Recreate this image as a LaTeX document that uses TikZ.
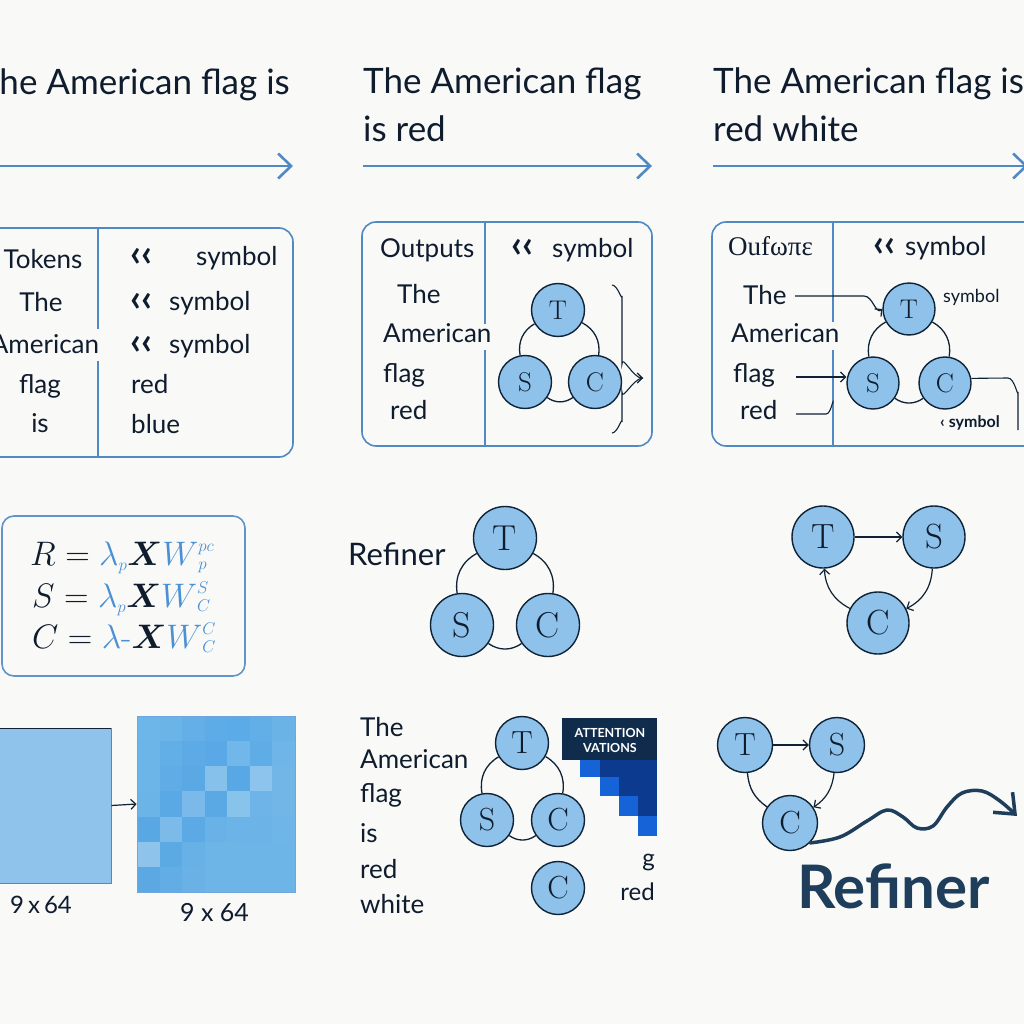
\RequirePackage{fix-cm}
\documentclass[tikz,border=0pt]{standalone}
\usepackage{bm}
\usepackage{fontspec}
\newfontfamily\lato{Lato}
\newfontfamily\libserif{Liberation Serif}
\usetikzlibrary{arrows.meta}
\definecolor{bg}{HTML}{F9F9F7}
\definecolor{ink}{HTML}{0E1C2E}
\definecolor{steel}{HTML}{5089C3}
\definecolor{cfill}{HTML}{8EC2EA}
\definecolor{cline}{HTML}{0F2236}
\definecolor{fblue}{HTML}{4A90D4}
\definecolor{navy}{HTML}{1E3E5C}
\definecolor{hdr}{HTML}{0F2C4C}
\definecolor{bright}{HTML}{1563D6}
\definecolor{deep}{HTML}{0B3A8E}
\definecolor{lblue}{HTML}{90C3EB}
\tikzset{
 head/.style={font=\lato\fontsize{35}{40}\selectfont, text=ink, inner sep=0pt, anchor=base west},
 btxt/.style={font=\lato\fontsize{26}{30}\selectfont, text=ink, inner sep=0pt, anchor=base west},
 chev/.style={font=\lato\bfseries\fontsize{38}{40}\selectfont, text=ink, inner sep=0pt, anchor=base west},
 hwarrow/.style={draw=steel, line width=2.6pt, -{Straight Barb[length=13pt,width=25pt]}},
 frame/.style={draw=steel, line width=1.6pt, rounded corners=14pt},
 divider/.style={draw=steel, line width=1.4pt},
 tsc/.style 2 args={circle, draw=cline, line width=1.4pt, fill=cfill, text=ink, inner sep=0pt, minimum size=#1, font=\fontsize{#2}{#2}\selectfont},
 ring/.style={draw=cline, line width=1.3pt},
 sarr/.style={draw=cline, line width=1.2pt, -{Straight Barb[length=5pt,width=10pt]}},
 fml/.style={anchor=base west, inner sep=0pt, text=ink, font=\fontsize{34}{38}\selectfont},
}
\newcommand\tscring[3]{%
 \draw[ring] (#1) to[bend right=35] (#2);
 \draw[ring] (#2) to[bend right=35] (#3);
 \draw[ring] (#3) to[bend right=35] (#1);}
\newcommand\ssc[1]{{\scriptscriptstyle #1}}
\newcommand\wsc[2]{\mbox{\makebox[0pt][l]{\raisebox{14pt}{$\scriptscriptstyle #1$}}\raisebox{-4pt}{$\scriptscriptstyle #2$}}}
\begin{document}
\begin{tikzpicture}[x=1pt,y=-1pt]
\useasboundingbox (0,0) rectangle (1024,1024);
\fill[bg] (0,0) rectangle (1024,1024);
\clip (0,0) rectangle (1024,1024);

% ---------- headings ----------
\node[head, anchor=base east] (h1) at (290,95) {The American flag is};
\node[head] (h2a) at (363,94) {The American flag};
\node[head] (h2b) at (363,142) {is red};
\node[head] (h3a) at (713,94) {The American flag is};
\node[head] (h3b) at (713,142) {red white};
\coordinate (a1s) at (-10,166); \coordinate (a1e) at (293,166);
\coordinate (a2s) at (363,166); \coordinate (a2e) at (652,166);
\coordinate (a3s) at (713,166); \coordinate (a3e) at (1028,166);
\draw[hwarrow] (a1s) -- (a1e);
\draw[hwarrow] (a2s) -- (a2e);
\draw[hwarrow] (a3s) -- (a3e);

% ---------- box 1 ----------
\draw[frame] (-20,228) rectangle (293,457);
\draw[divider] (98,228) -- (98,329);
\draw[divider] (98,361) -- (98,457);
\node[btxt, anchor=base] (b1a) at (43,268) {Tokens};
\node[btxt, anchor=base] (b1b) at (41,311) {The};
\node[btxt, anchor=base] (b1c) at (45,353) {American};
\node[btxt, anchor=base] (b1d) at (40,393) {flag};
\node[btxt, anchor=base] (b1e) at (40,432) {is};
\node[chev] (k1) at (130,266) {‹‹};
\node[btxt] (s1) at (196,265) {symbol};
\node[chev] (k2) at (130,311) {‹‹};
\node[btxt] (s2) at (169,310) {symbol};
\node[chev] (k3) at (130,354) {‹‹};
\node[btxt] (s3) at (169,353) {symbol};
\node[btxt] (r1) at (131,393) {red};
\node[btxt] (r2) at (131,433) {blue};

% ---------- box 2 ----------
\draw[frame] (362,222) rectangle (652,446);
\draw[divider] (485,222) -- (485,324);
\draw[divider] (485,350) -- (485,446);
\node[btxt] (o2) at (380,257) {Outputs};
\node[chev] (k4) at (511,258) {‹‹};
\node[btxt] (s4) at (552,257) {symbol};
\node[btxt] (w2a) at (397,303) {The};
\node[btxt] (w2b) at (383,342) {American};
\node[btxt] (w2c) at (383,382) {flag};
\node[btxt] (w2d) at (390,419) {red};
\node[tsc={53pt}{27}] (T2) at (558,310) {T};
\node[tsc={53pt}{27}] (S2) at (525,382) {S};
\node[tsc={53pt}{27}] (C2) at (595,382) {C};
\tscring{T2}{S2}{C2}
\coordinate (bt) at (612,285); \coordinate (bb) at (612,433); \coordinate (btip) at (643,378);
\draw[sarr, line width=1.1pt] (bt) to[out=0,in=270] (622,296) -- (622,364) to[out=90,in=180] (btip);
\draw[ring, line width=1.1pt] (bb) to[out=0,in=90] (622,422) -- (622,392) to[out=270,in=180] (btip);

% ---------- box 3 ----------
\draw[frame] (712,222) rectangle (1045,446);
\draw[divider] (833,222) -- (833,322);
\draw[divider] (833,350) -- (833,446);
\node[btxt, font=\libserif\fontsize{27}{30}\selectfont] (o3) at (728,255) {Oufωπε};
\node[chev] (k5) at (873,256) {‹‹};
\node[btxt] (s5) at (905,255) {symbol};
\node[btxt] (w3a) at (743,304) {The};
\node[btxt] (w3b) at (731,342) {American};
\node[btxt] (w3c) at (733,382) {flag};
\node[btxt] (w3d) at (740,419) {red};
\node[tsc={52pt}{27}] (T3) at (909,309) {T};
\node[tsc={52pt}{27}] (S3) at (873,383) {S};
\node[tsc={52pt}{27}] (C3) at (945,383) {C};
\tscring{T3}{S3}{C3}
\node[btxt, font=\lato\fontsize{18}{20}\selectfont] (s6) at (943,302) {symbol};
\node[btxt, font=\lato\bfseries\fontsize{16}{20}\selectfont] (s7) at (940,427) {‹ symbol};
\coordinate (th3) at (795,296);
\draw[sarr] (th3) -- (864,296) to[out=0,in=220] (T3.180);
\coordinate (fl3) at (796,377);
\draw[sarr] (fl3) -- (fl3 -| S3.west);
\coordinate (rd3) at (796,414); \coordinate (rd3e) at (833,403);
\draw[ring, line width=1.1pt] (rd3) -- (826,414) to[out=0,in=90] (rd3e);
\coordinate (c3e) at (1018,430);
\draw[ring, line width=1.1pt] (C3.10) -- (1008,378) to[out=0,in=270] (1018,392) -- (c3e);

% ---------- formula box ----------
\draw[frame, rounded corners=12pt, draw=steel!90] (2,516) rectangle (245,676);
\node[fml] (f1) at (30,565)
  {$R = {\color{fblue}\lambda_{\ssc{p}}}\bm{X}{\color{fblue}W\wsc{pc}{p}}$};
\node[fml] (f2) at (32,607)
  {$S = {\color{fblue}\lambda_{\ssc{p}}}\bm{X}{\color{fblue}W\wsc{S}{C}}$};
\node[fml] (f3) at (32,648)
  {$C = {\color{fblue}\lambda\mbox{-}}\bm{X}{\color{fblue}W\wsc{C}{C}}$};

% ---------- middle refiner ----------
\node[btxt, font=\lato\fontsize{31}{34}\selectfont] (ref1) at (348,565) {Refiner};
\node[tsc={63pt}{36}] (T4) at (505,538) {T};
\node[tsc={63pt}{36}] (S4) at (462,625) {S};
\node[tsc={63pt}{36}] (C4) at (548,625) {C};
\tscring{T4}{S4}{C4}

% ---------- middle right ----------
\node[tsc={62pt}{35}] (T5) at (823,537) {T};
\node[tsc={62pt}{35}] (S5) at (934,537) {S};
\node[tsc={62pt}{35}] (C5) at (878,623) {C};
\draw[sarr] (T5) -- (S5);
\draw[sarr] (S5) to[bend left=30] (C5);
\draw[sarr] (C5) to[bend left=30] (T5);

% ---------- bottom left ----------
\node[draw=steel, line width=1pt, fill=lblue, minimum width=120pt, minimum height=155pt, inner sep=0pt] (m1) at (51,805.5) {};
\draw[cline, line width=1pt] (-10,728) -- (111,728);
\foreach \row [count=\r from 0] in {
 {6DB6E9,6BB4E8,64AFE7,5EACE7,5AABE7,62AEE7,6AB3E7},
 {6CB5E8,62AEE6,5CABE6,5AA9E6,72B7E9,5FADE6,70B5E7},
 {6CB5E8,5FACE6,5AA9E5,86C1EC,58A8E5,8CC4ED,72B6E8},
 {6AB4E7,5AA9E5,7AB9EA,5AA9E5,88C3EC,6EB4E8,72B6E8},
 {5AA8E3,7BBAE9,5CAAE5,68B2E7,6CB4E7,6CB4E7,70B5E8},
 {8EC3EC,5CAAE4,68B1E6,6DB4E7,6DB4E7,6DB4E7,6EB5E7},
 {5BA8E3,62ADE5,6AB2E6,6DB4E7,6DB4E7,6DB4E7,6EB5E7}} {
  \foreach \hex [count=\c from 0] in \row {
    \definecolor{cellc}{HTML}{\hex}
    \fill[cellc] ({137+\c*22.57},{716+\r*25.14}) rectangle ++(22.8,25.4);
  }
}
\node[draw=fblue!80, line width=0.8pt, minimum width=158pt, minimum height=176pt, inner sep=0pt] (m2) at (216,804) {};
\draw[sarr] (m1.east) -- (m2.west);
\node[btxt, font=\lato\fontsize{24}{28}\selectfont] (d1) at (10,913) {9\,x\,64};
\node[btxt, font=\lato\fontsize{25}{28}\selectfont] (d2) at (180,921) {9 x 64};

% ---------- bottom middle ----------
\node[btxt] (u1) at (360,736) {The};
\node[btxt] (u2) at (360,768) {American};
\node[btxt] (u3) at (360,802) {flag};
\node[btxt] (u4) at (360,842) {is};
\node[btxt] (u5) at (360,878) {red};
\node[btxt] (u6) at (360,913) {white};
\node[tsc={53pt}{32}] (T6) at (522,743) {T};
\node[tsc={53pt}{32}] (S6) at (487,820) {S};
\node[tsc={53pt}{32}] (C6) at (558,820) {C};
\node[tsc={53pt}{32}] (C6b) at (558,888) {C};
\tscring{T6}{S6}{C6}
\fill[hdr] (562,718) rectangle (657,760);
\node[text=white, font=\lato\bfseries\fontsize{12.5}{15}\selectfont, align=center, inner sep=0pt] (att) at (610,740) {ATTENTION\\VATIONS};
\fill[bright] (580,760) rectangle (600,777);
\fill[deep] (600,760) rectangle (657,777);
\fill[bright] (600,777) rectangle (619,796);
\fill[deep] (619,777) rectangle (657,796);
\fill[bright] (619,796) rectangle (638,816);
\fill[deep] (638,796) rectangle (657,816);
\fill[bright] (638,816) rectangle (657,836);
\node[btxt, anchor=base east, font=\lato\fontsize{24}{28}\selectfont] (g1) at (655,866) {g};
\node[btxt, anchor=base east, font=\lato\fontsize{24}{28}\selectfont] (g2) at (655,900) {red};

% ---------- bottom right ----------
\node[tsc={55pt}{32}] (T7) at (745,745) {T};
\node[tsc={55pt}{32}] (S7) at (837,745) {S};
\node[tsc={55pt}{32}] (C7) at (790,823) {C};
\draw[sarr] (T7) -- (S7);
\draw[sarr] (S7) to[bend left=25] (C7);
\draw[ring] (T7) to[bend right=25] (C7);
\draw[draw=navy, line width=3.5pt, line cap=round, -{Straight Barb[length=17pt,width=28pt]}]
  plot[smooth, tension=0.6] coordinates {(C7.south east) (840,837) (867,821) (887,810) (903,817) (917,828) (933,826) (947,807) (962,793) (982,791) (1000,801) (1017,816)};
\node[anchor=base west, inner sep=0pt, text=navy, font=\lato\bfseries\fontsize{60}{64}\selectfont] (ref2) at (797,908) {Refiner};
\end{tikzpicture}
\end{document}
